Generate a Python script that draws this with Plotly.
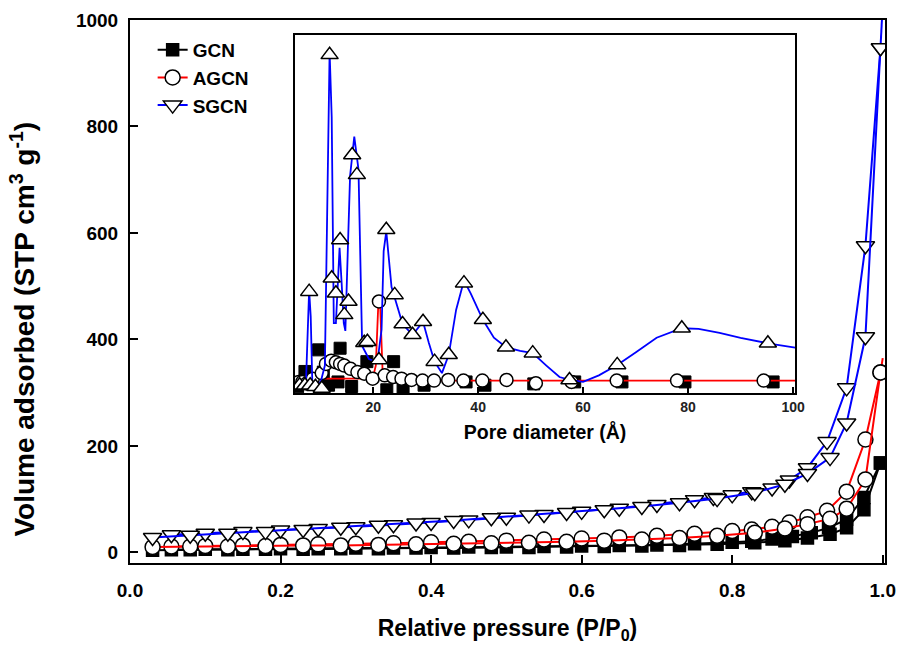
import plotly.graph_objects as go

# ---------------- Main isotherm data (P/P0, cm3/g STP) ----------------
GCN_ADS_P = [0.03, 0.08, 0.13, 0.18, 0.23, 0.28, 0.33, 0.38, 0.43, 0.48, 0.53, 0.58,
             0.63, 0.68, 0.73, 0.78, 0.83, 0.87, 0.90, 0.93, 0.952, 0.975, 0.997]
GCN_ADS_V = [4, 5, 5, 6, 6, 7, 7, 8, 8, 9, 9, 10, 11, 12, 13, 15, 18, 22, 27, 34, 46, 80, 168]
GCN_DES_P = [0.997, 0.975, 0.952, 0.928, 0.905, 0.88, 0.853, 0.826, 0.80, 0.75, 0.70, 0.65,
             0.60, 0.55, 0.50, 0.45, 0.40, 0.35, 0.30, 0.25, 0.20, 0.15, 0.10, 0.055]
GCN_DES_V = [168, 103, 62, 46, 37, 30, 25, 21, 19, 16, 14, 13, 12, 11, 10, 10, 9, 8, 8, 7, 7, 6, 6, 5]

AGCN_ADS_P = [0.03, 0.08, 0.13, 0.18, 0.23, 0.28, 0.33, 0.38, 0.43, 0.48, 0.53, 0.58,
              0.63, 0.68, 0.73, 0.78, 0.83, 0.87, 0.90, 0.93, 0.952, 0.977, 0.997]
AGCN_ADS_V = [10, 11, 11, 12, 13, 13, 14, 15, 16, 17, 18, 20, 22, 24, 27, 31, 37, 45, 53, 63, 82, 137, 338]
AGCN_DES_P = [0.997, 0.977, 0.952, 0.926, 0.90, 0.876, 0.853, 0.826, 0.80, 0.75, 0.70, 0.65,
              0.60, 0.55, 0.50, 0.45, 0.40, 0.35, 0.30, 0.25, 0.20, 0.15, 0.10, 0.055]
AGCN_DES_V = [338, 212, 114, 78, 66, 56, 48, 43, 40, 35, 31, 28, 26, 24, 22, 20, 19, 17, 16, 15, 14, 13, 12, 11]
AGCN_TOP = [1.0, 365]

SGCN_ADS_P = [0.03, 0.08, 0.13, 0.18, 0.23, 0.28, 0.33, 0.38, 0.43, 0.48, 0.53, 0.58,
              0.63, 0.68, 0.73, 0.78, 0.83, 0.87, 0.90, 0.93, 0.952, 0.977, 0.997]
SGCN_ADS_V = [28, 32, 36, 39, 43, 47, 51, 55, 60, 65, 70, 75, 80, 86, 93, 101, 112, 128, 148, 178, 243, 405, 948]
SGCN_DES_P = [0.997, 0.977, 0.952, 0.926, 0.90, 0.876, 0.853, 0.826, 0.80, 0.775, 0.75, 0.70,
              0.65, 0.60, 0.55, 0.50, 0.45, 0.40, 0.35, 0.30, 0.25, 0.20, 0.15, 0.10, 0.055]
SGCN_DES_V = [948, 576, 309, 208, 159, 136, 121, 114, 108, 103, 99, 90, 83, 77, 71, 66, 61, 56,
              52, 48, 45, 42, 39, 36, 33]
SGCN_TOP = [1.0, 1030]

# ---------------- Inset: pore size distribution (arb. units) ----------------
IN_SGCN_LINE_D = [5.3, 6.0, 7.2, 7.6, 7.8, 8.1, 8.4, 9.0, 10.0, 10.8, 11.2, 11.7, 12.1, 12.5,
                  12.9, 13.2, 13.6, 14.0, 14.4, 14.7, 15.1, 15.6, 16.4, 17.2, 17.9, 18.5, 19.2,
                  20.8, 21.6, 22.0, 22.5, 23.5, 25.1, 25.6, 27.5, 29.5, 30.6, 31.7, 33.1, 34.4,
                  35.8, 37.3, 38.6, 40.9, 43.0, 45.3, 48.0, 50.4, 53.0, 55.5, 57.4, 60.0, 63.0,
                  66.5, 70.0, 74.0, 78.8, 82.0, 86.0, 90.0, 95.2, 100.4]
IN_SGCN_LINE_V = [-0.02, -0.01, 0.0, 0.2, 0.28, 0.2, 0.0, -0.01, 0.0, 0.05, 0.5, 1.01, 0.81, 0.18,
                  0.18, 0.3, 0.41, 0.3, 0.18, 0.156, 0.4, 0.63, 0.75, 0.65, 0.11, 0.09, 0.07,
                  0.06, 0.16, 0.4, 0.46, 0.29, 0.2, 0.177, 0.144, 0.184, 0.12, 0.062, 0.027, 0.083,
                  0.22, 0.31, 0.27, 0.19, 0.135, 0.106, 0.095, 0.088, 0.05, 0.015, 0.006, 0.0, 0.02,
                  0.052, 0.09, 0.135, 0.164, 0.162, 0.15, 0.135, 0.118, 0.105]
IN_SGCN_D = [6.0, 7.0, 7.8, 8.0, 9.0, 10.2, 11.7, 12.1, 12.9, 13.7, 14.5, 15.3, 16.0, 16.9, 18.3,
             18.9, 21.1, 22.5, 24.1, 25.6, 27.5, 29.5, 31.7, 34.4, 37.3, 40.9, 45.3, 50.4, 57.4,
             66.5, 78.8, 95.2]
IN_SGCN_V = [-0.01, -0.01, 0.276, -0.01, -0.015, -0.02, 1.0, 0.317, 0.271, 0.434, 0.205, 0.246,
             0.694, 0.633, 0.12, 0.123, 0.067, 0.465, 0.266, 0.177, 0.144, 0.184, 0.062, 0.083,
             0.302, 0.19, 0.106, 0.088, 0.006, 0.052, 0.164, 0.118]

IN_AGCN_LINE_D = [5.3, 10.0, 19.9, 20.5, 21.0, 21.3, 21.8, 22.2, 30.0, 60.0, 100.4]
IN_AGCN_LINE_V = [0.0, 0.01, 0.01, 0.05, 0.246, 0.246, 0.03, 0.01, 0.004, 0.004, 0.004]
IN_AGCN_D = [5.8, 6.5, 7.3, 8.5, 10.2, 11.0, 12.0, 12.9, 13.7, 14.5, 15.7, 17.0, 18.3, 19.9,
             21.1, 22.2, 23.8, 25.4, 27.3, 29.4, 31.6, 34.3, 37.2, 40.8, 45.4, 51.0, 57.8,
             66.4, 77.9, 94.4]
IN_AGCN_V = [0.0, 0.0, -0.005, 0.01, 0.027, 0.055, 0.065, 0.06, 0.055, 0.05, 0.04, 0.03, 0.025,
             0.01, 0.246, 0.02, 0.015, 0.01, 0.006, 0.004, 0.004, 0.006, 0.004, 0.004, 0.006,
             -0.004, 0.0, 0.004, 0.004, 0.004]

IN_GCN_D = [5.6, 6.4, 7.0, 9.6, 10.5, 11.5, 13.3, 13.7, 15.9, 18.8, 22.6, 23.9, 25.7, 29.7,
            37.7, 41.3, 50.6, 58.4, 67.4, 79.4, 96.2]
IN_GCN_V = [-0.015, -0.005, 0.032, 0.098, 0.03, -0.01, 0.0, 0.103, -0.014, 0.062, -0.024, 0.062,
            -0.024, -0.01, 0.0, -0.01, -0.006, 0.0, 0.0, 0.0, 0.0]

NAMES = ["GCN", "AGCN", "SGCN"]
X_TICKS = [0.0, 0.2, 0.4, 0.6, 0.8, 1.0]
Y_TICKS = [0, 200, 400, 600, 800, 1000]
INSET_TICKS = [20, 40, 60, 80, 100]
Y_TITLE = "Volume adsorbed (STP cm<sup>3</sup> g<sup>-1</sup>)"
X_TITLE = "Relative pressure (P/P<sub>0</sub>)"
INSET_X_TITLE = "Pore diameter (Å)"

BLACK, RED, BLUE = "#000000", "#ff0000", "#0000ff"
FONT = "Liberation Sans, Arial, Helvetica, sans-serif"

fig = go.Figure()

def main_series(name, color, sym, size, fill, adsP, adsV, desP, desV, top=None):
    mk = dict(symbol=sym, size=size, color=fill, line=dict(color="black", width=1.5))
    if top is not None:
        fig.add_trace(go.Scatter(x=[adsP[-1], top[0]], y=[adsV[-1], top[1]], mode="lines",
                                 line=dict(color=color, width=2), showlegend=False,
                                 hoverinfo="skip", cliponaxis=True))
    fig.add_trace(go.Scatter(x=desP, y=desV, mode="lines+markers", name=name,
                             line=dict(color=color, width=2), marker=mk, showlegend=False))
    fig.add_trace(go.Scatter(x=adsP, y=adsV, mode="lines+markers", name=name,
                             line=dict(color=color, width=2), marker=mk, showlegend=True))

main_series(NAMES[0], BLACK, "square", 12, "black", GCN_ADS_P, GCN_ADS_V, GCN_DES_P, GCN_DES_V)
main_series(NAMES[1], RED, "circle", 15, "white", AGCN_ADS_P, AGCN_ADS_V, AGCN_DES_P, AGCN_DES_V, AGCN_TOP)
main_series(NAMES[2], BLUE, "triangle-down", 16, "white", SGCN_ADS_P, SGCN_ADS_V, SGCN_DES_P, SGCN_DES_V, SGCN_TOP)

# inset traces
fig.add_trace(go.Scatter(x=IN_GCN_D, y=IN_GCN_V, xaxis="x2", yaxis="y2", mode="markers",
                         marker=dict(symbol="square", size=12, color="black",
                                     line=dict(color="black", width=1)), showlegend=False))
fig.add_trace(go.Scatter(x=IN_AGCN_LINE_D, y=IN_AGCN_LINE_V, xaxis="x2", yaxis="y2", mode="lines",
                         line=dict(color=RED, width=1.8), showlegend=False))
fig.add_trace(go.Scatter(x=IN_AGCN_D, y=IN_AGCN_V, xaxis="x2", yaxis="y2", mode="markers",
                         marker=dict(symbol="circle", size=13, color="white",
                                     line=dict(color="black", width=1.5)), showlegend=False))
fig.add_trace(go.Scatter(x=IN_SGCN_LINE_D, y=IN_SGCN_LINE_V, xaxis="x2", yaxis="y2", mode="lines",
                         line=dict(color=BLUE, width=1.8), showlegend=False))
fig.add_trace(go.Scatter(x=IN_SGCN_D, y=IN_SGCN_V, xaxis="x2", yaxis="y2", mode="markers",
                         marker=dict(symbol="triangle-up", size=15, color="white",
                                     line=dict(color="black", width=1.5)), showlegend=False))

fig.add_annotation(text=Y_TITLE, xref="paper", yref="paper", x=-0.143, y=0.43,
                   textangle=-90, showarrow=False, xanchor="center", yanchor="middle",
                   font=dict(size=28, family=FONT, weight="bold", color="black"))

fig.update_layout(
    width=902, height=646,
    margin=dict(l=130, r=17, t=20, b=83, autoexpand=False),
    paper_bgcolor="white", plot_bgcolor="white",
    font=dict(family=FONT, color="black", size=18, weight="bold"),
    showlegend=True,
    legend=dict(x=0.03, y=0.98, xanchor="left", yanchor="top", bgcolor="rgba(0,0,0,0)",
                font=dict(size=19, family=FONT, weight="bold"), tracegroupgap=0,
                itemsizing="trace"),
    xaxis=dict(range=[0, 1.003], tickvals=X_TICKS, tickformat=".1f", automargin=False,
               ticks="inside", ticklen=8, tickwidth=2, tickcolor="black",
               showline=True, linewidth=2, linecolor="black", mirror=True,
               showgrid=False, zeroline=False, ticklabelstandoff=9,
               tickfont=dict(size=19, family=FONT, weight="bold"),
               title=dict(text=X_TITLE, standoff=20,
                          font=dict(size=23, family=FONT, weight="bold"))),
    yaxis=dict(range=[-20, 1000], tickvals=Y_TICKS, automargin=False,
               ticks="inside", ticklen=8, tickwidth=2, tickcolor="black",
               showline=True, linewidth=2, linecolor="black", mirror=True,
               showgrid=False, zeroline=False, ticklabelstandoff=6,
               tickfont=dict(size=19, family=FONT, weight="bold")),
    xaxis2=dict(domain=[0.2185, 0.881], anchor="y2", range=[5.1, 100.4], tickvals=INSET_TICKS,
                ticks="inside", ticklen=6, tickwidth=1.5, tickcolor="black", automargin=False,
                showline=True, linewidth=1.5, linecolor="black", mirror=True,
                showgrid=False, zeroline=False,
                tickfont=dict(size=14, color="#222222", family=FONT, weight="bold"),
                title=dict(text=INSET_X_TITLE, standoff=12,
                           font=dict(size=19.5, family=FONT, weight="bold"))),
    yaxis2=dict(domain=[0.313, 0.972], anchor="x2", range=[-0.034, 1.06], automargin=False,
                showticklabels=False, ticks="", showline=True, linewidth=1.5,
                linecolor="black", mirror=True, showgrid=False, zeroline=False),
)

fig.write_html("out.html")
